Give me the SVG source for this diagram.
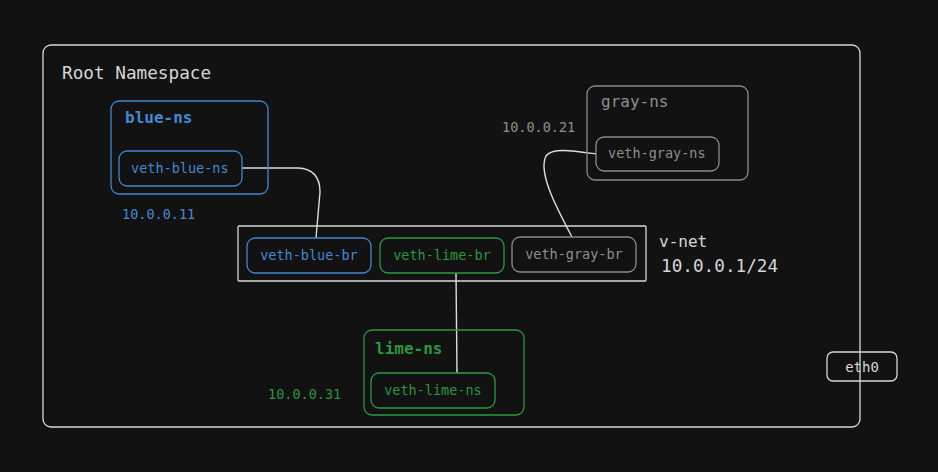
<svg xmlns="http://www.w3.org/2000/svg" width="938" height="472" viewBox="0 0 938 472">
<style>
text{font-family:"DejaVu Sans Mono","Liberation Mono",monospace;}
.box{fill:none;stroke-width:1.3;}
.blue{stroke:#3f86cf;}
.green{stroke:#2a9a3e;}
.gray{stroke:#8a8a8a;}
.white{stroke:#d8d8d8;}
.tb{fill:#4389d2;}
.tg{fill:#2b963e;}
.tgr{fill:#8e8e8e;}
.tw{fill:#d6d6d6;}
.conn{fill:none;stroke:#dcdcdc;stroke-width:1.4;}
</style>
<rect width="938" height="472" fill="#121212"/>
<g id="root">
<rect class="box white" x="43" y="45" width="817" height="382" rx="8"/>
<text class="tw" x="62" y="79" font-size="17.7">Root Namespace</text>
</g>
<g id="connectors">
<path class="conn" d="M242,168 L298,168 Q320,169 320,192 L316,238"/>
<path class="conn" d="M596,154 C575,151 552,147 546,156 C538,172 555,205 572,237"/>
<path class="conn" d="M456,273 L457,373"/>
</g>
<g id="blue-ns">
<rect class="box blue" x="111" y="101" width="157" height="93" rx="8"/>
<text class="tb" x="125" y="123" font-size="16" font-weight="bold">blue-ns</text>
</g>
<g id="veth-blue-ns">
<rect class="box blue" x="119" y="151" width="123" height="35" rx="8" fill="#121212"/>
<text class="tb" x="131" y="173" font-size="13.5">veth-blue-ns</text>
</g>
<text class="tb" x="122" y="219" font-size="13.5">10.0.0.11</text>
<g id="gray-ns">
<rect class="box gray" x="587" y="86" width="161" height="94" rx="8"/>
<text class="tgr" x="601" y="107" font-size="16">gray-ns</text>
</g>
<g id="veth-gray-ns">
<rect class="box gray" x="596" y="137" width="123" height="34" rx="8" fill="#121212"/>
<text class="tgr" x="608" y="158" font-size="13.5">veth-gray-ns</text>
</g>
<text class="tgr" x="502" y="132" font-size="13.5">10.0.0.21</text>
<g id="v-net">
<rect class="box white" x="238" y="226" width="408" height="55" rx="1"/>
<text class="tw" x="659" y="247" font-size="16">v-net</text>
<text class="tw" x="661" y="272" font-size="17.7">10.0.0.1/24</text>
</g>
<g id="veth-blue-br">
<rect class="box blue" x="247" y="238" width="124" height="35" rx="8" fill="#121212"/>
<text class="tb" x="309" y="260" font-size="13.5" text-anchor="middle">veth-blue-br</text>
</g>
<g id="veth-lime-br">
<rect class="box green" x="380" y="238" width="124" height="35" rx="8" fill="#121212"/>
<text class="tg" x="442" y="260" font-size="13.5" text-anchor="middle">veth-lime-br</text>
</g>
<g id="veth-gray-br">
<rect class="box gray" x="512" y="237" width="124" height="35" rx="8" fill="#121212"/>
<text class="tgr" x="574" y="259" font-size="13.5" text-anchor="middle">veth-gray-br</text>
</g>
<g id="lime-ns">
<rect class="box green" x="364" y="330" width="160" height="85" rx="8"/>
<text class="tg" x="375" y="354" font-size="16" font-weight="bold">lime-ns</text>
</g>
<g id="veth-lime-ns">
<rect class="box green" x="371" y="373" width="124" height="35" rx="8" fill="#121212"/>
<text class="tg" x="433" y="395" font-size="13.5" text-anchor="middle">veth-lime-ns</text>
</g>
<text class="tg" x="268" y="399" font-size="13.5">10.0.0.31</text>
<g id="eth0">
<rect class="box white" x="827" y="352" width="70" height="29" rx="6" fill="#121212"/>
<text class="tw" x="862" y="372" font-size="14" text-anchor="middle">eth0</text>
</g>
</svg>
